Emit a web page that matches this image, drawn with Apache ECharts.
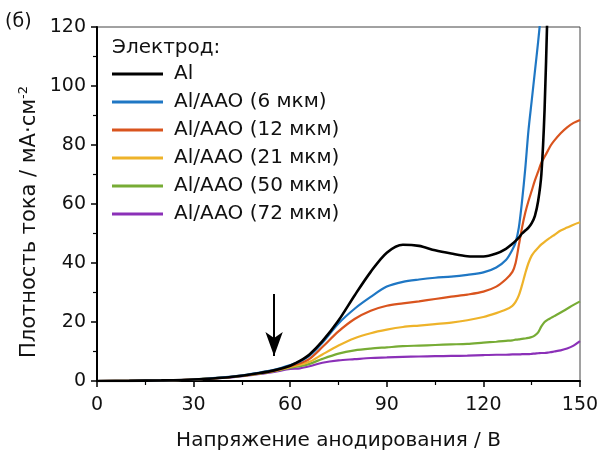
<!DOCTYPE html>
<html><head><meta charset="utf-8">
<script src="https://cdn.jsdelivr.net/npm/echarts@6/dist/echarts.min.js"></script>
<style>html,body{margin:0;padding:0;background:#fff}#c{width:600px;height:450px}</style>
</head><body><div id="c"></div>
<script>
var voltages = [0,10,20,30,40,45,50,55,60,63,66,70,75,80,85,90,95,100,105,110,115,120,124,127,129,130,131,132,133,134,135,136,137,138,139,140,141,142,144,146,148,150];
var seriesNames = ['Al','Al/AAO (6 мкм)','Al/AAO (12 мкм)','Al/AAO (21 мкм)','Al/AAO (50 мкм)','Al/AAO (72 мкм)'];
var al     = [0,0.05,0.2,0.5,1.2,1.8,2.6,3.6,5.2,6.8,9,13.5,20.5,29,37,43.5,46.2,45.8,44.3,43.2,42.3,42.2,43.2,44.8,46.5,47.5,48.6,50,51,52,53.5,56,61,70,92,130,null,null,null,null,null,null];
var aao6   = [0,0.05,0.2,0.5,1.3,1.9,2.8,3.8,5.4,6.6,8.6,13,19.5,24.5,28.5,32,33.6,34.4,35,35.4,36,36.8,38.5,41,44.5,47,52,61,72,85,95,105,115,126,null,null,null,null,null,null,null,null];
var aao12  = [0,0.05,0.2,0.5,1.2,1.8,2.6,3.5,5,6,7.5,11.5,16.8,21,23.8,25.5,26.3,27,27.8,28.6,29.3,30.3,32,34.5,37,40,46,52,57,61,64.5,68,71,74,76,78,80,81.5,84,86,87.5,88.5];
var aao21  = [0,0.05,0.2,0.5,1.2,1.8,2.5,3.4,4.8,5.5,6.5,9,12,14.5,16.2,17.4,18.3,18.8,19.3,19.8,20.6,21.7,23,24.2,25.5,26.8,29,32.5,36.5,40,42.5,44,45.2,46.3,47.2,48,48.8,49.5,51,52,53,53.8];
var aao50  = [0,0.05,0.2,0.5,1.2,1.7,2.4,3.3,4.5,5,5.8,7.5,9.3,10.4,11,11.4,11.8,12,12.2,12.4,12.6,13,13.3,13.6,13.8,14,14.1,14.3,14.4,14.6,14.9,15.5,16.5,18.5,20,20.8,21.4,22,23.2,24.5,25.8,27];
var aao72  = [0,0.05,0.2,0.5,1.1,1.6,2.3,3.1,4.1,4.3,5,6.2,7,7.4,7.8,8,8.2,8.3,8.4,8.5,8.6,8.8,8.9,8.9,9,9,9,9.1,9.1,9.1,9.2,9.3,9.4,9.5,9.5,9.6,9.8,10,10.4,11,12,13.5];
var colors = ['#000000','#1f77c4','#d9541e','#eeb32a','#77ac35','#8b30b8'];
var arrowV = 55, arrowTop = 29.5, arrowTip = 8.5;

var allData = [al,aao6,aao12,aao21,aao50,aao72];
function pairs(vals){var r=[];for(var i=0;i<voltages.length;i++){if(vals[i]!==null)r.push([voltages[i],vals[i]]);}return r;}
var series = allData.map(function(v,i){
  return {name:seriesNames[i],type:'line',data:pairs(v),showSymbol:false,smooth:0.3,clip:true,
    lineStyle:{color:colors[i],width:i===0?2.6:2.2},itemStyle:{color:colors[i]},z:10-i};
});
series[0].markLine = {silent:true,symbol:['none','arrow'],symbolSize:[13,24],
  lineStyle:{color:'#000',width:2,type:'solid'},label:{show:false},
  data:[[{coord:[arrowV,arrowTop]},{coord:[arrowV,arrowTip]}]]};

var chart = echarts.init(document.getElementById('c'),null,{renderer:'canvas'});
var font = 'DejaVu Sans, sans-serif';
chart.setOption({
  animation:false,
  backgroundColor:'#fff',
  grid:{left:97,right:20,top:27,bottom:69,show:true,borderColor:'#444',borderWidth:1,
    containLabel:false,outerBoundsMode:'none'},
  xAxis:{type:'value',min:0,max:150,interval:30,
    name:'Напряжение анодирования / В',nameLocation:'middle',nameGap:50,
    nameTextStyle:{fontSize:20,color:'#111',fontFamily:font},
    axisLine:{show:true,lineStyle:{color:'#000',width:2}},
    axisTick:{show:true,inside:false,length:6,lineStyle:{color:'#000',width:1.5}},
    minorTick:{show:true,splitNumber:2,length:4,lineStyle:{color:'#000',width:1.2}},
    axisLabel:{fontSize:19,color:'#111',margin:15,fontFamily:font},
    splitLine:{show:false}},
  yAxis:{type:'value',min:0,max:120,interval:20,
    axisLine:{show:true,lineStyle:{color:'#000',width:2}},
    axisTick:{show:true,inside:false,length:6,lineStyle:{color:'#000',width:1.5}},
    minorTick:{show:true,splitNumber:2,length:4,lineStyle:{color:'#000',width:1.2}},
    axisLabel:{fontSize:19,color:'#111',margin:11,fontFamily:font},
    splitLine:{show:false}},
  legend:{orient:'vertical',left:107,top:58,itemWidth:51,itemHeight:3,itemGap:6,icon:'rect',
    textStyle:{fontSize:20,color:'#111',fontFamily:font,padding:[0,0,0,6],lineHeight:22},data:seriesNames},
  graphic:[
    {type:'text',left:112,top:38,style:{text:'Электрод:',fontSize:20,fill:'#111',fontFamily:font}},
    {type:'text',left:5,top:13,style:{text:'(б)',fontSize:19,fill:'#111',fontFamily:font}},
    {type:'text',x:30,y:222,rotation:Math.PI/2,
      style:{text:'Плотность тока / мА·см{sup|-2}',fontSize:21,fill:'#111',fontFamily:font,
        align:'center',verticalAlign:'middle',
        rich:{sup:{fontSize:13,fill:'#111',fontFamily:font,padding:[0,0,12,0]}}}}
  ],
  series:series
});
</script></body></html>
